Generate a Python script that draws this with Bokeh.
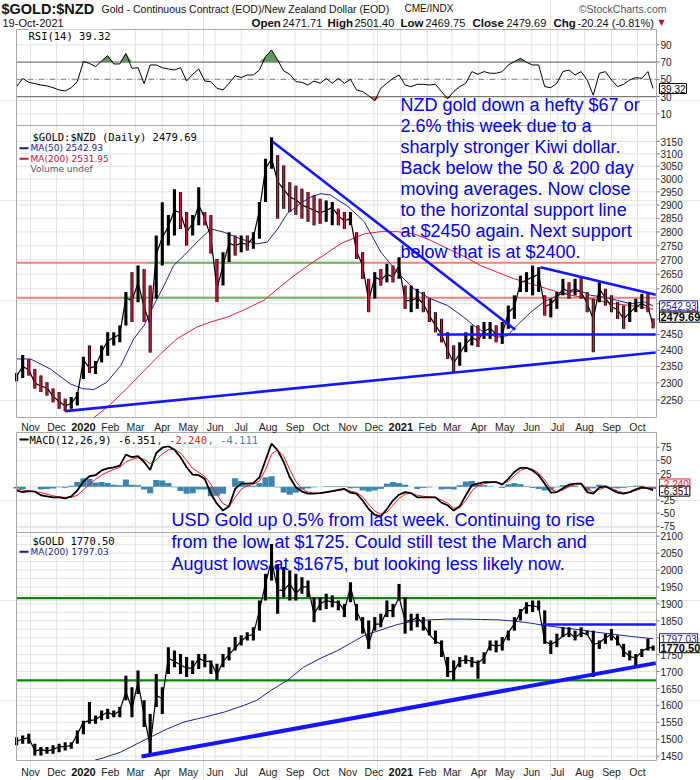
import numpy as np
import pandas as pd
from bokeh.plotting import figure
from bokeh.models import Range1d, LogScale, Label
from bokeh.core.properties import value
from bokeh.embed import file_html
from bokeh.resources import INLINE

# ---------------- data ----------------
# weekly samples (Wednesday of each week) plus the last session
week_dates = list(pd.date_range("2019-10-16", "2021-10-13", freq="W-WED").strftime("%Y-%m-%d")) + ["2021-10-19"]

nzd_high = [2330, 2385, 2372, 2342, 2322, 2302, 2283, 2273, 2253, 2258,
            2273, 2380, 2415, 2367, 2415, 2457, 2457, 2479, 2589, 2657,
            2680, 2668, 2611, 2787, 2910, 2862, 2960, 2949, 2874, 2862,
            2968, 2874, 2862, 2703, 2727, 2799, 2787, 2787, 2787, 2799,
            2911, 3080, 3168, 3094, 3053, 2987, 2974, 2962, 2949, 2936,
            2924, 2917, 2911, 2886, 2874, 2874, 2799, 2727, 2634, 2657,
            2668, 2686, 2680, 2709, 2611, 2611, 2600, 2589, 2567, 2522,
            2500, 2457, 2415, 2425, 2457, 2479, 2479, 2490, 2490, 2479,
            2490, 2544, 2578, 2645, 2657, 2680, 2674, 2578, 2567, 2589,
            2634, 2622, 2634, 2640, 2589, 2567, 2622, 2600, 2578, 2556,
            2544, 2556, 2567, 2583, 2589, 2501.40]
nzd_low = [2305, 2315, 2322, 2283, 2273, 2263, 2243, 2224, 2217, 2224,
           2233, 2312, 2330, 2327, 2362, 2383, 2415, 2425, 2479, 2490,
           2555, 2490, 2393, 2567, 2680, 2751, 2787, 2811, 2751, 2787,
           2824, 2824, 2722, 2556, 2611, 2692, 2715, 2727, 2733, 2739,
           2775, 2911, 3040, 2849, 2886, 2874, 2862, 2849, 2837, 2824,
           2830, 2837, 2824, 2824, 2811, 2824, 2703, 2634, 2522, 2567,
           2611, 2622, 2622, 2634, 2533, 2522, 2533, 2522, 2490, 2457,
           2425, 2373, 2332, 2352, 2394, 2415, 2410, 2436, 2436, 2425,
           2420, 2468, 2500, 2589, 2589, 2578, 2589, 2511, 2505, 2533,
           2578, 2567, 2578, 2567, 2522, 2394, 2555, 2544, 2522, 2500,
           2468, 2490, 2522, 2533, 2522, 2469.75]
nzd_close = [2320, 2350, 2340, 2300, 2290, 2285, 2260, 2245, 2232, 2240,
             2262, 2370, 2345, 2350, 2395, 2430, 2440, 2450, 2570, 2560,
             2620, 2540, 2480, 2720, 2780, 2820, 2880, 2870, 2800, 2830,
             2900, 2850, 2780, 2600, 2680, 2760, 2750, 2760, 2755, 2780,
             2880, 3040, 3080, 2990, 2960, 2930, 2920, 2900, 2890, 2880,
             2870, 2880, 2890, 2860, 2840, 2850, 2730, 2680, 2560, 2640,
             2630, 2650, 2640, 2680, 2560, 2560, 2570, 2550, 2510, 2480,
             2450, 2400, 2360, 2390, 2420, 2440, 2430, 2460, 2470, 2450,
             2450, 2520, 2540, 2620, 2630, 2640, 2650, 2540, 2550, 2570,
             2600, 2590, 2600, 2590, 2550, 2500, 2600, 2570, 2540, 2530,
             2500, 2520, 2540, 2550, 2540, 2479.69]

gold_high = [1506, 1511, 1516, 1487, 1477, 1477, 1482, 1487, 1491, 1491,
             1526, 1555, 1610, 1570, 1585, 1590, 1585, 1595, 1688, 1654,
             1703, 1615, 1575, 1693, 1654, 1772, 1762, 1752, 1743, 1733,
             1752, 1752, 1733, 1723, 1752, 1772, 1802, 1807, 1816, 1831,
             1910, 1989, 2077, 2018, 2009, 1999, 1989, 1979, 1969, 1920,
             1920, 1930, 1925, 1910, 1900, 1964, 1900, 1861, 1851, 1861,
             1871, 1910, 1900, 1959, 1920, 1871, 1871, 1861, 1851, 1821,
             1792, 1743, 1733, 1743, 1748, 1743, 1733, 1757, 1792, 1792,
             1802, 1821, 1861, 1885, 1905, 1910, 1910, 1881, 1792, 1812,
             1831, 1831, 1821, 1831, 1821, 1821, 1792, 1812, 1826, 1807,
             1782, 1762, 1752, 1767, 1797, 1777]
gold_low = [1482, 1487, 1487, 1452, 1452, 1457, 1457, 1462, 1467, 1472,
            1487, 1515, 1546, 1546, 1556, 1560, 1565, 1565, 1615, 1565,
            1634, 1536, 1457, 1595, 1575, 1693, 1713, 1693, 1684, 1693,
            1708, 1713, 1693, 1676, 1713, 1733, 1762, 1777, 1792, 1792,
            1821, 1910, 1969, 1871, 1920, 1910, 1910, 1930, 1920, 1846,
            1881, 1885, 1890, 1881, 1861, 1905, 1851, 1812, 1767, 1821,
            1831, 1861, 1861, 1910, 1812, 1821, 1831, 1821, 1807, 1782,
            1743, 1684, 1674, 1713, 1723, 1713, 1679, 1723, 1762, 1757,
            1762, 1792, 1821, 1851, 1871, 1876, 1881, 1782, 1752, 1772,
            1802, 1802, 1792, 1802, 1807, 1684, 1767, 1782, 1792, 1777,
            1743, 1733, 1718, 1743, 1762, 1762]
gold_close = [1495, 1500, 1505, 1465, 1470, 1465, 1470, 1478, 1478, 1482,
              1515, 1550, 1555, 1558, 1570, 1580, 1572, 1585, 1640, 1590,
              1670, 1570, 1480, 1630, 1620, 1740, 1730, 1720, 1710, 1710,
              1740, 1730, 1730, 1690, 1730, 1750, 1770, 1790, 1805, 1810,
              1880, 1960, 2030, 1940, 1940, 1960, 1930, 1950, 1950, 1870,
              1900, 1910, 1905, 1905, 1880, 1950, 1880, 1840, 1780, 1840,
              1840, 1880, 1880, 1920, 1850, 1850, 1860, 1840, 1810, 1790,
              1780, 1700, 1700, 1730, 1735, 1730, 1725, 1740, 1780, 1775,
              1780, 1815, 1840, 1875, 1895, 1895, 1890, 1790, 1780, 1790,
              1805, 1815, 1800, 1815, 1810, 1780, 1785, 1800, 1810, 1790,
              1760, 1745, 1740, 1760, 1770, 1770.50]

rsi14 = [41.5, 51, 46.5, 45, 43.4, 42.3, 40.3, 37.6, 36.5, 40.3,
         47.3, 70.5, 68.5, 64.7, 71.2, 77.4, 67.8, 67.8, 80, 62.7,
         63.5, 45, 66.6, 66.6, 63.5, 62, 60.8, 63.5, 48, 55.8,
         62, 48, 47.3, 39.6, 37.6, 45.4, 54.2, 52, 55, 55,
         60.8, 76.3, 84, 72.4, 59.7, 55.8, 47.3, 46.5, 43.4, 48,
         45.4, 51, 45.4, 51, 45.4, 50, 37.6, 35.7, 31, 25,
         39.6, 45.4, 51, 55, 43.4, 41.5, 44.2, 44.2, 43.4, 44.2,
         35.7, 27.5, 35.7, 41.5, 45.4, 58.9, 55.8, 58.9, 57, 57,
         58.9, 66.6, 70.5, 74.3, 69.7, 66.6, 66.6, 41.5, 40.3, 45.4,
         58.9, 60.8, 55, 58.9, 49.2, 31.5, 57, 58.9, 49.2, 41.5,
         44.2, 49.2, 52, 51, 58.9, 39.32]

macd_line = [-7, -10, -8, -9, -16, -18, -20, -20, -22, -18,
             -7, 10, 20, 22, 31, 35, 37, 40, 61, 56,
             58, 47, 32, 64, 74, 77, 70, 56, 37, 23,
             22, 15, -13, -32, -45, -37, -4, 6, 6, 7,
             18, 50, 82, 69, 47, 18, -1, -9, -13, -13,
             -12, -10, -8, -6, -4, -11, -13, -26, -42, -53,
             -56, -42, -26, -15, -10, -12, -20, -20, -20, -20,
             -30, -35, -45, -37, -16, 3, 6, 9, 9, 9,
             4, 15, 28, 36, 36, 31, 22, 6, -11, -10,
             -3, 4, 6, 6, -10, -13, -1, 1, -5, -11,
             -13, -10, -5, -1, -3, -6.351]
macd_signal = [-4, -6, -8, -9, -11, -14, -17, -19, -20, -20,
               -16, -6, 5, 14, 22, 28, 33, 37, 47, 52,
               55, 52, 44, 51, 62, 70, 71, 64, 50, 35,
               27, 20, 5, -15, -32, -37, -20, -5, 2, 5,
               11, 32, 62, 70, 58, 33, 10, -4, -10, -12,
               -12, -11, -9, -7, -5, -8, -11, -19, -33, -46,
               -52, -48, -35, -22, -14, -12, -16, -18, -19, -20,
               -25, -31, -40, -40, -26, -8, 2, 6, 8, 9,
               6, 10, 21, 31, 35, 33, 26, 13, -4, -9,
               -6, 0, 4, 6, -3, -10, -5, -1, -3, -8,
               -11, -11, -7, -3, -2, -2.240]
macd_hist = [-3, -4, 0, 0, -5, -4, -3, -1, -2, 2,
             9, 16, 15, 8, 9, 7, 4, 3, 14, 4,
             3, -5, -12, 13, 12, 7, -1, -8, -13, -12,
             -5, -5, -18, -17, -13, 0, 16, 11, 4, 2,
             7, 18, 20, -1, -11, -15, -11, -5, -3, -1,
             0, 1, 1, 1, 1, -3, -2, -7, -9, -7,
             -4, 6, 9, 7, 4, 0, -4, -2, -1, 0,
             -5, -4, -5, 3, 10, 11, 4, 3, 1, 0,
             -2, 5, 7, 5, 1, -2, -4, -7, -7, -1,
             3, 4, 2, 0, -7, -3, 4, 2, -2, -3,
             -2, 1, 2, 2, -1, -4.111]

ma50_dates = ["2019-10-16", "2019-11-01", "2019-11-24", "2019-12-17", "2019-12-31", "2020-01-13",
              "2020-01-28", "2020-02-13", "2020-02-28", "2020-03-11", "2020-03-22", "2020-04-03",
              "2020-04-14", "2020-04-26", "2020-05-11", "2020-05-27", "2020-06-11", "2020-06-30",
              "2020-07-19", "2020-07-31", "2020-08-12", "2020-08-23", "2020-09-07", "2020-09-19",
              "2020-10-01", "2020-10-12", "2020-10-24", "2020-10-31", "2020-11-20", "2020-12-09",
              "2020-12-28", "2021-01-16", "2021-02-04", "2021-02-24", "2021-03-15", "2021-03-26",
              "2021-04-07", "2021-04-22", "2021-05-04", "2021-05-15", "2021-05-31", "2021-06-15",
              "2021-07-01", "2021-07-16", "2021-07-28", "2021-08-08", "2021-08-24", "2021-09-08",
              "2021-09-23", "2021-10-09", "2021-10-19"]
nzd_ma50 = [2373, 2373, 2342, 2297, 2283, 2280,
            2302, 2352, 2436, 2479, 2544, 2611,
            2680, 2715, 2763, 2811, 2799, 2775,
            2757, 2763, 2811, 2867, 2905, 2930,
            2943, 2938, 2911, 2898, 2837, 2727,
            2657, 2600, 2567, 2544, 2505, 2479,
            2457, 2441, 2446, 2479, 2522, 2556,
            2578, 2589, 2592, 2578, 2572, 2561,
            2550, 2556, 2542.93]

ma200_dates = ["2020-01-13", "2020-02-01", "2020-02-20", "2020-03-11", "2020-03-30", "2020-04-18",
               "2020-05-11", "2020-05-27", "2020-06-15", "2020-07-03", "2020-07-27", "2020-08-12",
               "2020-08-31", "2020-09-19", "2020-10-08", "2020-10-24", "2020-11-20", "2020-12-09",
               "2020-12-28", "2021-01-16", "2021-02-04", "2021-02-24", "2021-03-15", "2021-04-03",
               "2021-04-22", "2021-05-12", "2021-05-31", "2021-06-19", "2021-07-08", "2021-07-28",
               "2021-08-16", "2021-09-04", "2021-09-23", "2021-10-19"]
nzd_ma200 = [2198, 2236, 2283, 2337, 2389, 2436,
             2474, 2490, 2506, 2528, 2561, 2600,
             2645, 2686, 2724, 2758, 2793, 2801,
             2801, 2793, 2770, 2740, 2712, 2680,
             2657, 2634, 2617, 2600, 2583, 2572,
             2561, 2550, 2544, 2531.95]

gold_ma_dates = ["2020-01-14", "2020-01-24", "2020-02-13", "2020-03-03", "2020-03-18", "2020-04-07",
                 "2020-04-26", "2020-05-19", "2020-06-11", "2020-07-04", "2020-07-19", "2020-08-04",
                 "2020-08-23", "2020-09-11", "2020-10-01", "2020-10-20", "2020-11-05", "2020-11-20",
                 "2020-12-09", "2020-12-28", "2021-01-16", "2021-02-04", "2021-02-24", "2021-03-15",
                 "2021-04-03", "2021-04-23", "2021-05-12", "2021-05-31", "2021-06-19", "2021-07-08",
                 "2021-07-28", "2021-08-16", "2021-09-04", "2021-09-23", "2021-10-19"]
gold_ma200 = [1438, 1445, 1462, 1487, 1506, 1531,
              1551, 1565, 1580, 1600, 1615, 1644,
              1674, 1713, 1740, 1762, 1785, 1807,
              1823, 1839, 1849, 1853, 1855, 1855,
              1854, 1853, 1849, 1843, 1835, 1829,
              1823, 1816, 1810, 1804, 1797.03]

# author-drawn levels / trend lines
nzd_levels = [2690, 2570]
nzd_level_green_start = ["2020-03-16", "2020-02-16"]
nzd_level_green_end = "2020-11-21"
nzd_downtrend_dates, nzd_downtrend = ["2020-08-06", "2021-05-13"], [3150, 2465]
nzd_uptrend_dates, nzd_uptrend = ["2019-12-11", "2021-10-22"], [2217, 2393]
nzd_toptrend_dates, nzd_toptrend = ["2021-06-11", "2021-10-22"], [2674, 2580]
nzd_support_dates, nzd_support = ["2021-02-12", "2021-10-22"], [2450, 2450]
gold_levels = [1917, 1674]
gold_resist_dates, gold_resist = ["2021-06-13", "2021-10-22"], [1839, 1839]
gold_uptrend_dates, gold_uptrend = ["2020-03-08", "2021-10-22"], [1449, 1725]

month_labels = ["Nov", "Dec", "2020", "Feb", "Mar", "Apr", "May", "Jun", "Jul", "Aug", "Sep", "Oct",
                "Nov", "Dec", "2021", "Feb", "Mar", "Apr", "May", "Jun", "Jul", "Aug", "Sep", "Oct"]
rsi_ticks = [90, 70, 50, 30, 10]
nzd_ticks = [3150, 3100, 3050, 3000, 2950, 2900, 2850, 2800, 2750, 2700, 2650, 2600,
             2550, 2500, 2450, 2400, 2350, 2300, 2250]
macd_ticks = [75, 50, 25, -25, -50, -75]
gold_ticks = [2100, 2050, 2000, 1950, 1900, 1850, 1800, 1750, 1700, 1650, 1600, 1550, 1500, 1450]

for arr in [nzd_high, nzd_low, nzd_close, gold_high, gold_low, gold_close, rsi14,
            macd_line, macd_signal, macd_hist]:
    assert len(arr) == len(week_dates), len(arr)
assert len(ma50_dates) == len(nzd_ma50) and len(ma200_dates) == len(nzd_ma200)
assert len(gold_ma_dates) == len(gold_ma200)

# ---------------- layout calibration (canvas pixels) ----------------
W, H = 700, 780
T0 = pd.Timestamp("2019-11-01")
X0_PX, PX_PER_DAY = 30.0, 607.0 / 700.0


def days(ds):
    return ((pd.to_datetime(pd.Series(list(ds))) - T0).dt.days).to_numpy(dtype=float)


def px2day(px):
    return (px - X0_PX) / PX_PER_DAY


def lin_range(v1, p1, v2, p2):
    s = (v2 - v1) / (p2 - p1)
    return Range1d(start=v1 + (H - p1) * s, end=v1 - p1 * s)


def log_range(v1, p1, v2, p2):
    l1, l2 = np.log(v1), np.log(v2)
    s = (l2 - l1) / (p2 - p1)
    return Range1d(start=float(np.exp(l1 + (H - p1) * s)), end=float(np.exp(l1 - p1 * s)))


def lin_px(v, v1, p1, v2, p2):
    return p1 + (v - v1) * (p2 - p1) / (v2 - v1)


def log_px(v, v1, p1, v2, p2):
    return p1 + (np.log(v) - np.log(v1)) * (p2 - p1) / (np.log(v2) - np.log(v1))


CAL = {"rsi": (90, 44.3, 10, 113.3), "main": (3150, 141.0, 2250, 399.3),
       "macd": (75, 446.7, -50, 512.7), "gold": (2100, 535.7, 1450, 755.7)}
PANELS = {"rsi": (29, 125), "main": (125, 417), "macd": (432, 532), "gold": (532, 760)}
PL, PR = 16, 656
XL, XR = px2day(PL), px2day(PR)

p = figure(width=W, height=H, x_range=Range1d(px2day(0), px2day(W)), y_range=Range1d(H, 0),
           output_backend="svg", toolbar_location=None, x_axis_location=None, y_axis_location=None,
           min_border=0, outline_line_color=None, background_fill_color="white",
           border_fill_color="white")
p.extra_y_ranges = {"rsi": lin_range(*CAL["rsi"]), "main": log_range(*CAL["main"]),
                    "macd": lin_range(*CAL["macd"]), "gold": lin_range(*CAL["gold"])}
p.extra_y_scales = {"main": LogScale()}

FONT = "Liberation Sans"
MONO = "DejaVu Sans Mono"
VER = "DejaVu Sans"
GRID = "#e2e2e2"
BORDER = "#a8a8a8"
BLUE = "#1515ff"

# ---------- grids ----------
mx = days(pd.date_range("2019-11-01", "2021-10-01", freq="MS").strftime("%Y-%m-%d"))
for name, (top, bot) in PANELS.items():
    p.segment(x0=mx, x1=mx, y0=top, y1=bot, line_color=GRID, line_width=1)


def hlines(vals, rname, color=GRID, width=1, dash="solid", x0=XL, x1=XR, alpha=1.0):
    vals = np.asarray(vals, dtype=float)
    p.segment(x0=x0, x1=x1, y0=vals, y1=vals, y_range_name=rname, line_color=color,
              line_width=width, line_dash=dash, line_alpha=alpha)


hlines([10, 90], "rsi")
hlines(nzd_ticks, "main")
hlines(macd_ticks + [0], "macd")
hlines(np.arange(1450, 2126, 25), "gold")


# ---------- right-side tick labels ----------
def ticks(vals, rname):
    vals = np.asarray(vals, dtype=float)
    p.segment(x0=px2day(656), x1=px2day(659), y0=vals, y1=vals, y_range_name=rname,
              line_color="#777777")
    p.text(x=px2day(660), y=vals, text=[str(int(v)) for v in vals], y_range_name=rname,
           text_font=value(FONT), text_font_size="10px", text_color="#222222",
           text_baseline="middle", text_align="left")


ticks(rsi_ticks, "rsi")
ticks(nzd_ticks, "main")
ticks(macd_ticks, "macd")
ticks(gold_ticks, "gold")

wx = days(week_dates)

# ---------- RSI panel ----------
rsi = np.asarray(rsi14, dtype=float)
p.varea(x=wx, y1=70, y2=np.maximum(rsi, 70), y_range_name="rsi", fill_color="#5e9a5e")
p.varea(x=wx, y1=np.minimum(rsi, 30), y2=30, y_range_name="rsi", fill_color="#c45a5a")
hlines([70, 30], "rsi", color="#7a7a7a", width=1.2)
hlines([50], "rsi", color="#7a7a7a", width=1, dash="6 2 1 2")
p.line(wx, rsi, y_range_name="rsi", line_color="black", line_width=1)

# ---------- main NZD panel ----------
hlines(nzd_levels, "main", color="#f47f7f", width=2)
gx0 = days(nzd_level_green_start)
gx1 = days([nzd_level_green_end, nzd_level_green_end])
p.segment(x0=gx0, x1=gx1, y0=nzd_levels, y1=nzd_levels, y_range_name="main",
          line_color="#6cbf6c", line_width=2)
p.line(days(ma200_dates), nzd_ma200, y_range_name="main", line_color="#e0203a", line_width=1)
p.line(days(ma50_dates), nzd_ma50, y_range_name="main", line_color="#22229a", line_width=1)
close = np.asarray(nzd_close, dtype=float)
down = np.r_[False, np.diff(close) < 0]
p.line(wx, close, y_range_name="main", line_color="black", line_width=1.2)
p.vbar(x=wx, width=3.6, bottom=nzd_low, top=nzd_high, y_range_name="main",
       fill_color="black", line_color=None)
p.vbar(x=wx[down], width=1.8, bottom=np.asarray(nzd_low)[down], top=np.asarray(nzd_high)[down],
       y_range_name="main", fill_color="#d8143a", line_color=None)
for dts, vals in [(nzd_downtrend_dates, nzd_downtrend), (nzd_uptrend_dates, nzd_uptrend),
                  (nzd_toptrend_dates, nzd_toptrend), (nzd_support_dates, nzd_support)]:
    p.line(days(dts), vals, y_range_name="main", line_color=BLUE, line_width=2.6)

# ---------- MACD panel ----------
p.vbar(x=wx, width=7.0, bottom=0, top=macd_hist, y_range_name="macd",
       fill_color="#3a86ac", line_color=None)
p.line(wx, macd_signal, y_range_name="macd", line_color="#ff1a1a", line_width=1)
p.line(wx, macd_line, y_range_name="macd", line_color="black", line_width=1.8)

# ---------- USD gold panel ----------
hlines(gold_levels, "gold", color="#0c870c", width=2.2)
p.line(days(gold_ma_dates), gold_ma200, y_range_name="gold", line_color="#22229a", line_width=1)
p.line(wx, gold_close, y_range_name="gold", line_color="black", line_width=1.2)
p.vbar(x=wx, width=3.6, bottom=gold_low, top=gold_high, y_range_name="gold",
       fill_color="black", line_color=None)
p.line(days(gold_resist_dates), gold_resist, y_range_name="gold", line_color=BLUE, line_width=2.6)
p.line(days(gold_uptrend_dates), gold_uptrend, y_range_name="gold", line_color=BLUE, line_width=4)

# ---------- panel borders ----------
tops = [v[0] for v in PANELS.values()]
bots = [v[1] for v in PANELS.values()]
p.quad(left=XL, right=XR, top=tops, bottom=bots, fill_color=None, line_color=BORDER, line_width=1)

# ---------- date label strips ----------
is_year = np.array([lab.isdigit() for lab in month_labels])
for ypx in (426, 771):
    p.text(x=mx[~is_year], y=ypx, text=[l for l, y in zip(month_labels, is_year) if not y],
           text_font=value(FONT), text_font_size="10.5px", text_color="#222222",
           text_align="center", text_baseline="middle")
    p.text(x=mx[is_year], y=ypx, text=[l for l, y in zip(month_labels, is_year) if y],
           text_font=value(FONT), text_font_size="11px", text_font_style="bold",
           text_color="#111111", text_align="center", text_baseline="middle")


# ---------- header ----------
def htext(xpx, ypx, s, size="11px", style="normal", color="#111111", align="left", font=FONT):
    p.text(x=[px2day(xpx)], y=[ypx], text=[s], text_font=value(font), text_font_size=size,
           text_font_style=style, text_color=color, text_align=align, text_baseline="middle")


htext(1, 8, "$GOLD:$NZD", size="14.5px", style="bold")
htext(101, 8, "Gold - Continuous Contract (EOD)/New Zealand Dollar (EOD)", size="10.5px")
htext(404, 8, "CME/INDX", size="10px")
htext(666, 8, "\u00a9StockCharts.com", size="10.5px", color="#555555", align="right")
htext(2, 22, "19-Oct-2021", size="11px")
for xpx, s, bold in [(251, "Open", True), (282, "2471.71", False), (327, "High", True),
                     (354, "2501.40", False), (400, "Low", True), (425, "2469.75", False),
                     (472, "Close", True), (506, "2479.69", False), (553, "Chg", True),
                     (577, "-20.24 (-0.81%)", False)]:
    htext(xpx, 22, s, size="11.5px" if bold else "11px", style="bold" if bold else "normal")
htext(658, 22, "\u25bc", size="8px", color="#b0103a", font=VER)


# ---------- legends ----------
def leg(xpx, ypx, s, color="#000000", font=VER, size="9px"):
    p.add_layout(Label(x=px2day(xpx), y=ypx, text=s, text_font=font, text_font_size=size,
                       text_color=color, text_baseline="middle", text_align="left",
                       background_fill_color="white", background_fill_alpha=1.0))


def icon(ypx, color):
    p.segment(x0=[px2day(19)], x1=[px2day(28)], y0=[ypx], y1=[ypx], line_color=color, line_width=2)


leg(28, 35, "RSI(14) 39.32", font=MONO, size="10.5px")
leg(32, 136.5, "$GOLD:$NZD (Daily) 2479.69", font=MONO, size="10.5px")
leg(30, 147.7, "MA(50) 2542.93", color="#1c1c8c")
leg(30, 158.3, "MA(200) 2531.95", color="#d0103a")
leg(30, 168.5, "Volume undef", color="#555555")
icon(147.7, "#1c1c8c")
icon(158.3, "#d0103a")
leg(29, 439, "MACD(12,26,9) -6.351", font=MONO, size="10.5px")
leg(156, 439, ", -2.240", color="#ff1a1a", font=MONO, size="10.5px")
leg(207, 439, ", -4.111", color="#3a86ac", font=MONO, size="10.5px")
icon(439, "#000000")
leg(32, 540.5, "$GOLD 1770.50", font=MONO, size="10.5px")
leg(30, 551.3, "MA(200) 1797.03", color="#1c1c8c")
icon(551.3, "#1c1c8c")


# ---------- value tags on the right ----------
def tag(ypx, s, color, bold=False):
    p.add_layout(Label(x=px2day(659), y=ypx, text=s, text_font=FONT,
                       text_font_size="11px" if bold else "10px",
                       text_font_style="bold" if bold else "normal", text_color=color,
                       text_baseline="middle", text_align="left", background_fill_color="white",
                       border_line_color=color, border_line_width=1, padding=1))


tag(lin_px(rsi14[-1], *CAL["rsi"]), "39.32", "#000000")
tag(log_px(nzd_ma200[-1], *CAL["main"]) + 2, "2531.95", "#d0103a")
tag(log_px(nzd_ma50[-1], *CAL["main"]), "2542.93", "#1c1c8c")
tag(log_px(nzd_close[-1], *CAL["main"]) - 8, "2479.69", "#000000", bold=True)
tag(lin_px(macd_signal[-1], *CAL["macd"]) - 4, "-2.240", "#ff1a1a")
tag(lin_px(macd_line[-1], *CAL["macd"]) + 1, "-6.351", "#000000")
tag(lin_px(gold_ma200[-1], *CAL["gold"]), "1797.03", "#1c1c8c")
tag(lin_px(gold_close[-1], *CAL["gold"]), "1770.50", "#000000", bold=True)

# ---------- commentary ----------
nzd_note = ["NZD gold down a hefty $67 or", "2.6% this week due to a",
            "sharply stronger Kiwi dollar.", "Back below the 50 & 200 day",
            "moving averages. Now close", "to the horizontal support line",
            "at $2450 again. Next support", "below that is at $2400."]
usd_note = ["USD Gold up 0.5% from last week. Continuing to rise",
            "from the low at $1725. Could still test the March and",
            "August lows at $1675, but looking less likely now."]
for k, s in enumerate(nzd_note):
    p.add_layout(Label(x=px2day(400), y=104 + 21 * k, text=s, text_font=FONT,
                       text_font_size="18px", text_color="#0000ff", text_baseline="middle"))
for k, s in enumerate(usd_note):
    p.add_layout(Label(x=px2day(171), y=519 + 22 * k, text=s, text_font=FONT,
                       text_font_size="18px", text_color="#0000ff", text_baseline="middle"))

open("out.html", "w").write(file_html(p, INLINE))
